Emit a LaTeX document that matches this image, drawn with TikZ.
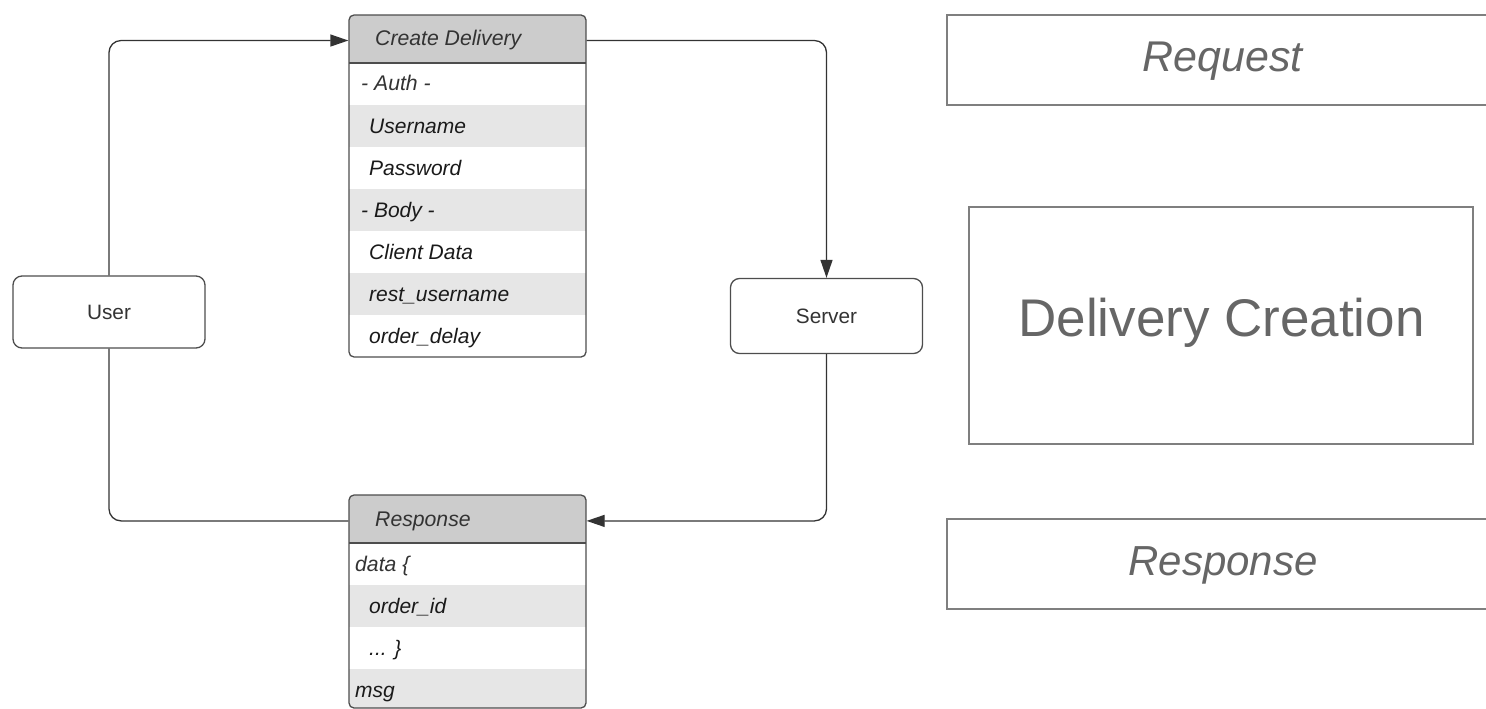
\documentclass[tikz,border=0pt]{standalone}
\usepackage{fontspec}
\setmainfont{Liberation Sans}
\usetikzlibrary{arrows.meta}
\definecolor{linec}{HTML}{333333}
\definecolor{tblborder}{HTML}{4D4D4D}
\definecolor{hdrfill}{HTML}{CCCCCC}
\definecolor{rowgray}{HTML}{E6E6E6}
\definecolor{lblborder}{HTML}{7F7F7F}
\definecolor{lbltext}{HTML}{666666}
\definecolor{hdrtext}{HTML}{333333}
\definecolor{rowtext}{HTML}{1A1A1A}
\tikzset{
  conn/.style={draw=linec, line width=1.3pt, rounded corners=12pt},
  arr/.style={-{Triangle[length=18pt,width=12pt]}},
  tblout/.style={draw=tblborder, line width=1.3pt, rounded corners=5pt, inner sep=0pt},
  rowtxt/.style={anchor=base west, inner sep=0pt, text=rowtext, font=\fontsize{21}{24}\selectfont\itshape},
  hdrtxt/.style={anchor=base west, inner sep=0pt, text=hdrtext, font=\fontsize{21.2}{24}\selectfont\itshape},
  procbox/.style={draw=tblborder, line width=1.3pt, rounded corners=9pt, fill=white, inner sep=0pt, text=hdrtext, font=\fontsize{20.8}{24}\selectfont},
  lblbox/.style={draw=lblborder, line width=1.3pt},
  lbltxt/.style={anchor=base, inner sep=0pt, text=lbltext},
}
\begin{document}
\begin{tikzpicture}[x=1pt,y=-1pt]
\useasboundingbox (0,0) rectangle (1486,709);

% ---------- Create Delivery table ----------
\begin{scope}
\clip[rounded corners=5pt] (349,15) rectangle (586,357);
\fill[hdrfill] (349,15) rectangle (586,63);
\fill[white]   (349,63) rectangle (586,105);
\fill[rowgray] (349,105) rectangle (586,147);
\fill[white]   (349,147) rectangle (586,189);
\fill[rowgray] (349,189) rectangle (586,231);
\fill[white]   (349,231) rectangle (586,273);
\fill[rowgray] (349,273) rectangle (586,315);
\fill[white]   (349,315) rectangle (586,357);
\end{scope}
\draw[tblborder, line width=1.3pt] (349,63) -- (586,63);
\node[tblout, minimum width=237pt, minimum height=342pt] (cd) at (467.5,186) {};
\node[hdrtxt] (cdh) at (375,46) {Create Delivery};
\node[hdrtxt] (r1) at (361,91) {- Auth -};
\node[rowtxt] (r2) at (369,133) {Username};
\node[rowtxt] (r3) at (369,175) {Password};
\node[rowtxt] (r4) at (361,217) {- Body -};
\node[rowtxt] (r5) at (369,259) {Client Data};
\node[rowtxt] (r6) at (369,301) {rest\_username};
\node[rowtxt] (r7) at (369,343) {order\_delay};

% ---------- Response table ----------
\begin{scope}
\clip[rounded corners=5pt] (349,495) rectangle (586,708);
\fill[hdrfill] (349,495) rectangle (586,543);
\fill[white]   (349,543) rectangle (586,585);
\fill[rowgray] (349,585) rectangle (586,627);
\fill[white]   (349,627) rectangle (586,669);
\fill[rowgray] (349,669) rectangle (586,708);
\end{scope}
\draw[tblborder, line width=1.3pt] (349,543) -- (586,543);
\node[tblout, minimum width=237pt, minimum height=213pt] (rs) at (467.5,601.5) {};
\node[hdrtxt] (rsh) at (375,526) {Response};
\node[hdrtxt] (s1) at (355,571) {data \{};
\node[rowtxt] (s2) at (369,613) {order\_id};
\node[rowtxt] (s3) at (369,655) {... \}};
\node[rowtxt] (s4) at (355,697) {msg};

% ---------- process boxes ----------
\node[procbox, minimum width=192pt, minimum height=72pt] (user) at (109,312) {User};
\node[procbox, minimum width=192pt, minimum height=75pt] (server) at (826.5,316) {Server};

% ---------- connectors ----------
\draw[conn, arr] (user.north) |- (cd.west |- cdh.center);
\draw[conn, arr] (cd.east |- cdh.center) -| (server.north);
\draw[conn, arr] (server.south) |- (rs.east |- rsh.center);
\draw[conn] (rs.west |- rsh.center) -| (user.south);

% ---------- right-side labels ----------
\draw[lblbox] (1492,15) -- (947,15) -- (947,105) -- (1492,105);
\node[lbltxt, font=\fontsize{43}{46}\selectfont\itshape] (lreq) at (1222.5,71) {Request};
\node[lblbox, minimum width=504pt, minimum height=237pt] (ldc) at (1221,325.5) {};
\node[lbltxt, font=\fontsize{53}{58}\selectfont] (ldct) at (1221.5,336) {Delivery Creation};
\draw[lblbox] (1492,519) -- (947,519) -- (947,609) -- (1492,609);
\node[lbltxt, font=\fontsize{42}{46}\selectfont\itshape] (lres) at (1223,575) {Response};
\end{tikzpicture}
\end{document}
